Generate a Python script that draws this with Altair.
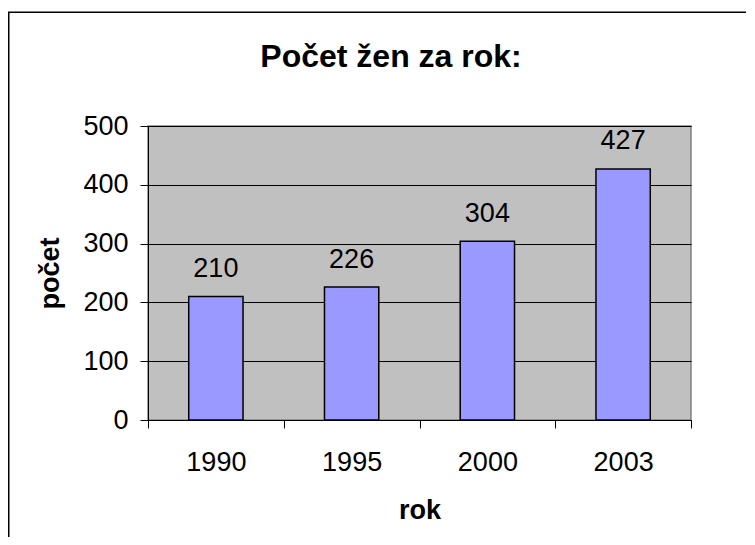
import altair as alt
import pandas as pd

title_text = "Počet žen za rok:"
years = ["1990", "1995", "2000", "2003"]
counts = [210, 226, 304, 427]
y_ticks = [0, 100, 200, 300, 400, 500]

df = pd.DataFrame({"rok": years, "pocet": counts})
one = pd.DataFrame({"t": [title_text]})

FONT = "Liberation Sans"

x_enc = alt.X(
    "rok:N",
    sort=years,
    scale=alt.Scale(paddingInner=0, paddingOuter=0),
    axis=alt.Axis(
        title="rok", titleFontSize=27, titleFontWeight="bold", titleFont=FONT,
        titleColor="black", titlePadding=22, labelAngle=0, labelFontSize=27,
        labelFont=FONT, labelColor="black", labelPadding=21, tickBand="extent",
        tickSize=8, tickColor="black", domainColor="black", grid=False,
    ),
)
y_enc = alt.Y(
    "pocet:Q",
    scale=alt.Scale(domain=[0, 500], nice=False),
    axis=alt.Axis(
        title="počet", titleFontSize=27, titleFontWeight="bold", titleFont=FONT,
        titleColor="black", titlePadding=18, values=y_ticks, labelFontSize=27,
        labelFont=FONT, labelColor="black", labelPadding=12, tickSize=8,
        tickColor="black", domainColor="black", grid=True, gridColor="black",
        gridWidth=1,
    ),
)

# outer chart-area frame (left and top edges; the rest lies beyond the window)
frame_left = alt.Chart(one).mark_rule(color="black", strokeWidth=1.5).encode(
    x=alt.value(-139.25), y=alt.value(-113.7), y2=alt.value(411)
)
frame_top = alt.Chart(one).mark_rule(color="black", strokeWidth=1.5).encode(
    x=alt.value(-140), x2=alt.value(598), y=alt.value(-113.7)
)

title = alt.Chart(one).mark_text(
    fontSize=32, fontWeight="bold", font=FONT, color="black",
    baseline="alphabetic", align="center"
).encode(x=alt.value(243), y=alt.value(-59.5), text="t:N")

bars = alt.Chart(df).mark_bar(
    color="#9999FF", stroke="black", strokeWidth=1.5, width=alt.RelativeBandSize(0.4)
).encode(x=x_enc, y=y_enc)

labels = alt.Chart(df).mark_text(
    fontSize=27, font=FONT, color="black", baseline="alphabetic", dy=-19.5
).encode(x=alt.X("rok:N", sort=years), y="pocet:Q", text="pocet:Q")

chart = alt.layer(bars, labels, frame_left, frame_top, title).properties(
    width=543,
    height=294,
    padding={"left": 140, "top": 118, "right": 56, "bottom": 117},
    autosize=alt.AutoSizeParams(type="none"),
    background="white",
).configure_view(fill="#C0C0C0", stroke="#808080", strokeWidth=1.5)

chart.save("out.html", embed_options={"renderer": "svg", "actions": False})
